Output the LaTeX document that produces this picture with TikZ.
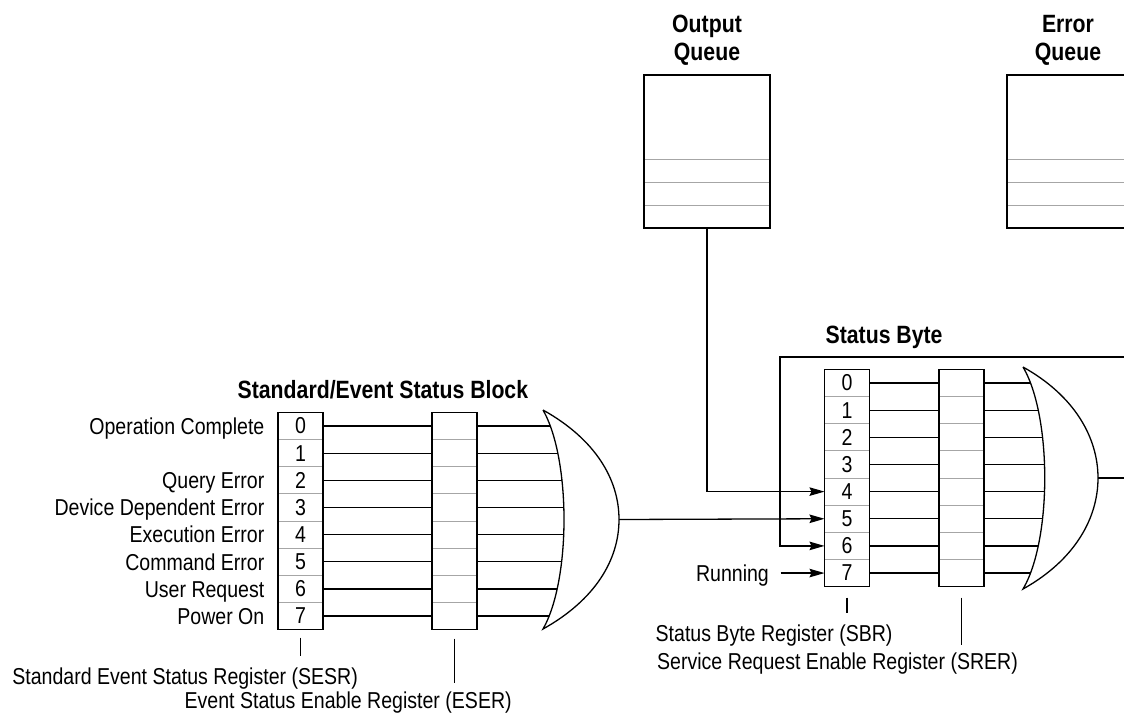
\documentclass[tikz,border=0pt]{standalone}
\usepackage{fontspec}
\setmainfont{Liberation Sans}[FakeStretch=0.85]
\usetikzlibrary{arrows.meta}
\tikzset{
  cell/.style={draw=gray!70, line width=0.9pt, minimum width=45pt, minimum height=27.15pt, inner sep=0pt, outer sep=0pt},
  lbl/.style={anchor=east, inner sep=0pt, text height=16.5pt, text depth=0pt},
  title/.style={font=\fontsize{25}{28}\selectfont\bfseries, inner sep=0pt},
  arr/.style={-{Stealth[length=15pt,width=8.5pt,inset=2pt]}},
  sep/.style={gray!70, line width=0.9pt}
}

\begin{document}
\begin{tikzpicture}[x=1pt,y=-1pt,line width=1.3pt,font=\fontsize{23}{28}\selectfont]
\useasboundingbox (0,0) rectangle (1124,713);
% queues
\node[title,align=center] (oqt) at (707,40) {Output\\Queue};
\node[title,align=center] (eqt) at (1068,40) {Error\\Queue};
\foreach \y in {159.3,182.7,205.7} \draw[sep] (644,\y) -- (770,\y);
\node[draw,minimum width=126pt,minimum height=153pt,inner sep=0pt,outer sep=0pt] (oq) at (707,151.5) {};
\foreach \y in {159.3,182.7,205.7} \draw[sep] (1007,\y) -- (1124,\y);
\draw (1124,75) -- (1007,75) -- (1007,228) -- (1124,228);

% standard/event status block
\node[title,anchor=base west] (sebt) at (237,398) {Standard/Event Status Block};
\foreach \i in {0,...,7} {
  \node[cell] (sesr\i) at (300.5,{426+27.15*\i}) {\i};
  \node[cell] (eser\i) at (454.5,{426+27.15*\i}) {};
  \draw (sesr\i.east) -- (eser\i.west);
}
\draw (sesr0.north west) rectangle (sesr7.south east);
\draw (eser0.north west) rectangle (eser7.south east);
\foreach \i/\t in {0/Operation Complete,2/Query Error,3/Device Dependent Error,4/Execution Error,5/Command Error,6/User Request,7/Power On}
  \node[lbl] (ev\i) at ([xshift=-13pt]sesr\i.west) {\t};
\begin{scope}
  \clip (0,0) -- (543,0) -- (543,410) .. controls (571,459) and (571,580) .. (543,629) -- (543,713) -- (0,713) -- cycle;
  \foreach \i in {0,...,7} \draw (eser\i.east) -- ++(100,0);
\end{scope}
\coordinate (orL) at (619,519.5);
\draw (543,410) .. controls (571,459) and (571,580) .. (543,629) .. controls (595,600) and (619,560) .. (orL) .. controls (619,479) and (595,439) .. (543,410);
\draw ([yshift=-8pt]sesr7.south) -- ([yshift=-26pt]sesr7.south);
\draw ([yshift=-9pt]eser7.south) -- ([yshift=-53pt]eser7.south);
\node[anchor=base west,inner sep=0pt] (sesrl) at (11.7,684) {Standard Event Status Register (SESR)};
\node[anchor=base west,inner sep=0pt] (eserl) at (184,708) {Event Status Enable Register (ESER)};

% status byte
\node[title,anchor=base west] (sbt) at (825,343) {Status Byte};
\foreach \i in {0,...,7} {
  \node[cell] (sbr\i) at (847,{383+27.15*\i}) {\i};
  \node[cell] (srer\i) at (961.5,{383+27.15*\i}) {};
  \draw (sbr\i.east) -- (srer\i.west);
}
\draw (sbr0.north west) rectangle (sbr7.south east);
\draw (srer0.north west) rectangle (srer7.south east);
\begin{scope}
  \clip (800,0) -- (1023,0) -- (1023,367) .. controls (1052,416) and (1052,540) .. (1023,589) -- (1023,713) -- (800,713) -- cycle;
  \foreach \i in {0,...,7} \draw (srer\i.east) -- ++(100,0);
\end{scope}
\coordinate (orR) at (1098,478);
\coordinate (outR) at (1124,478);
\draw (1023,367) .. controls (1052,416) and (1052,540) .. (1023,589) .. controls (1075,560) and (1098,518) .. (orR) .. controls (1098,438) and (1075,396) .. (1023,367);
\draw (orR) -- (outR);
\draw ([yshift=-11pt]sbr7.south) -- ([yshift=-26pt]sbr7.south);
\draw ([yshift=-11pt]srer7.south) -- ([yshift=-58pt]srer7.south);
\node[anchor=base west,inner sep=0pt] (sbrl) at (655,641) {Status Byte Register (SBR)};
\node[anchor=base west,inner sep=0pt] (srerl) at (656.5,669) {Service Request Enable Register (SRER)};

% inputs of the status byte
\coordinate (fbR) at (1124,357);
\coordinate (fbL) at (780,357);
\draw[arr] (oq.south) |- (sbr4.west);
\draw[arr] (orL) -- (sbr5.west);
\draw[arr] (fbR) -- (fbL) |- (sbr6.west);
\node[lbl] (run) at ([xshift=-55pt]sbr7.west) {Running};
\draw[arr] ([xshift=11pt]run.east) -- (sbr7.west);
\end{tikzpicture}
\end{document}
